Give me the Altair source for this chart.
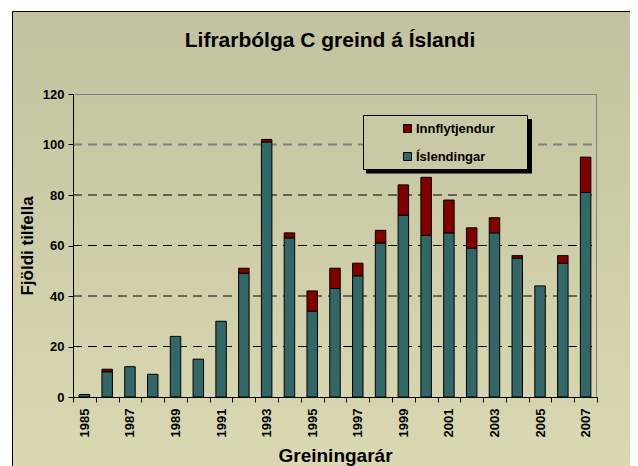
import altair as alt
import pandas as pd

# ---- data ----
years = list(range(1985, 2008))
islendingar = [1, 10, 12, 9, 24, 15, 30, 49, 101, 63, 34, 43, 48, 61, 72, 64, 65, 59, 65, 55, 44, 53, 81]
innflytjendur = [0, 1, 0, 0, 0, 0, 0, 2, 1, 2, 8, 8, 5, 5, 12, 23, 13, 8, 6, 1, 0, 3, 14]
series = ["Innflytjendur", "Íslendingar"]
series_colors = ["#800000", "#336666"]
y_ticks = [0, 20, 40, 60, 80, 100, 120]
grid_values = [20, 40, 60, 80, 100]
title_text = "Lifrarbólga C greind á Íslandi"
x_title = "Greiningarár"
y_title = "Fjöldi tilfella"

rows = []
for yr, a, b in zip(years, islendingar, innflytjendur):
    rows.append({"year": yr, "series": series[1], "value": a, "ord": 0})
    if b > 0:
        rows.append({"year": yr, "series": series[0], "value": b, "ord": 1})
df = pd.DataFrame(rows)

FONT = "Liberation Sans"
W, H = 524, 303
one = pd.DataFrame({"k": [0]})

# chart frame with gradient background
frame = alt.Chart(one).mark_rect(
    fill=alt.Gradient(
        gradient="linear",
        stops=[alt.GradientStop(color="#c3c2a0", offset=0),
               alt.GradientStop(color="#dbdab3", offset=1)],
        x1=0, x2=0, y1=0, y2=1,
    ),
    stroke="black", strokeWidth=1,
).encode(x=alt.value(-60.5), x2=alt.value(640), y=alt.value(-82.5), y2=alt.value(400))

# dashed grid lines (behind the bars)
grid = alt.Chart(pd.DataFrame({"v": grid_values})).mark_rule(strokeDash=[9, 6]).encode(
    y=alt.Y("v:Q"),
    x=alt.value(0), x2=alt.value(W),
    color=alt.condition("datum.v == 100", alt.value("#7f7f7f"), alt.value("black")),
    strokeWidth=alt.condition("datum.v == 100", alt.value(2), alt.value(1)),
)

# plot-area border top and right
top_border = alt.Chart(one).mark_rule(color="#808080", strokeWidth=1).encode(
    x=alt.value(0), x2=alt.value(W), y=alt.value(0.5)
)
right_border = alt.Chart(one).mark_rule(color="#808080", strokeWidth=1).encode(
    x=alt.value(W - 0.5), y=alt.value(0), y2=alt.value(H)
)

# legend box and its shadow
shadow = alt.Chart(one).mark_rect(fill="black").encode(
    x=alt.value(293), x2=alt.value(459), y=alt.value(25), y2=alt.value(79.5)
)
box = alt.Chart(one).mark_rect(fill="#cac9a6", stroke="black", strokeWidth=1).encode(
    x=alt.value(290.5), x2=alt.value(454.5), y=alt.value(21.5), y2=alt.value(75.5)
)

title = alt.Chart(pd.DataFrame({"t": [title_text]})).mark_text(
    font=FONT, fontSize=21, fontWeight="bold", color="black", align="center", baseline="alphabetic"
).encode(x=alt.value(257), y=alt.value(-47), text="t:N")

bars = alt.Chart(df).mark_bar(
    stroke="black", strokeWidth=1, width=alt.RelativeBandSize(0.46)
).encode(
    x=alt.X(
        "year:O",
        scale=alt.Scale(paddingInner=0, paddingOuter=0),
        axis=alt.Axis(
            title=x_title, titleFont=FONT, titleFontSize=19, titleFontWeight="bold", titleColor="black",
            titleX=W / 2, titleY=64, titleAlign="center", titleBaseline="alphabetic",
            labelAngle=270, labelExpr="datum.value % 2 == 1 ? datum.label : ''",
            labelFont=FONT, labelFontSize=13, labelFontWeight="bold", labelColor="black",
            labelPadding=6, tickBand="extent", tickSize=5, tickColor="black",
            domainColor="black", grid=False, zindex=1,
        ),
    ),
    y=alt.Y(
        "value:Q", stack="zero",
        scale=alt.Scale(domain=[0, 120], nice=False),
        axis=alt.Axis(
            title=y_title, titleFont=FONT, titleFontSize=17, titleFontWeight="bold", titleColor="black",
            titleX=-46, titleY=H / 2, titleAngle=270, titleAlign="center", titleBaseline="middle",
            values=y_ticks, labelFont=FONT, labelFontSize=13, labelFontWeight="bold", labelColor="black",
            labelPadding=4, tickSize=5, tickColor="black", domainColor="black",
            grid=False, zindex=1,
        ),
    ),
    color=alt.Color(
        "series:N",
        scale=alt.Scale(domain=series, range=series_colors),
        legend=alt.Legend(
            title=None, orient="none", legendX=328, legendY=28,
            symbolType="square", symbolSize=64, symbolStrokeColor="black", symbolStrokeWidth=1,
            labelFont=FONT, labelFontSize=13, labelFontWeight="bold", labelColor="black",
            labelOffset=2, rowPadding=14, padding=0,
        ),
    ),
    order=alt.Order("ord:Q"),
)

chart = alt.layer(frame, grid, top_border, right_border, shadow, box, title, bars).properties(
    width=W, height=H,
    padding={"left": 65, "top": 86, "right": 33, "bottom": 69},
    autosize=alt.AutoSizeParams(type="none"),
    background="white",
).configure_view(stroke=None)

chart.save("out.html", embed_options={"renderer": "svg", "actions": False})
